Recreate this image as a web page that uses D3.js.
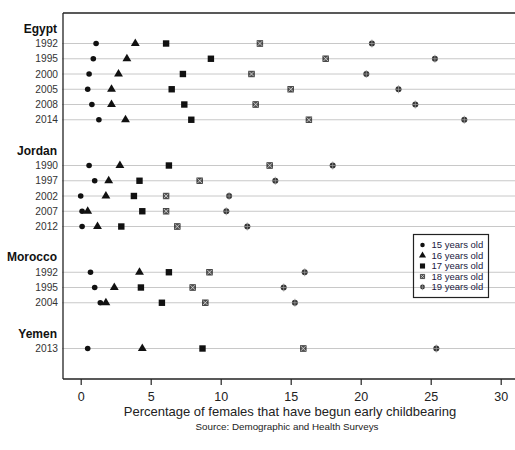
<!DOCTYPE html>
<html>
<head>
<meta charset="utf-8">
<script src="https://cdn.jsdelivr.net/npm/d3@7"></script>
<style>
  html, body { margin: 0; padding: 0; background: #fff; }
  svg { display: block; font-family: "Liberation Sans", Arial, sans-serif; }
</style>
</head>
<body>
<svg id="chart" width="515" height="450"></svg>
<script>
// Survey rows, grouped by country
const countries = ["Egypt", "Jordan", "Morocco", "Yemen"];
const surveyYears = {
  Egypt:   ["1992", "1995", "2000", "2005", "2008", "2014"],
  Jordan:  ["1990", "1997", "2002", "2007", "2012"],
  Morocco: ["1992", "1995", "2004"],
  Yemen:   ["2013"]
};
// Percent of females that have begun childbearing, by age (one entry per survey row)
const age15 = [1.1, 0.9, 0.6, 0.5, 0.8, 1.3,   0.6, 1.0, 0.0, 0.1, 0.1,   0.7, 1.0, 1.4,   0.5];
const age16 = [3.9, 3.3, 2.7, 2.2, 2.2, 3.2,   2.8, 2.0, 1.8, 0.5, 1.2,   4.2, 2.4, 1.8,   4.4];
const age17 = [6.1, 9.3, 7.3, 6.5, 7.4, 7.9,   6.3, 4.2, 3.8, 4.4, 2.9,   6.3, 4.3, 5.8,   8.7];
const age18 = [12.8, 17.5, 12.2, 15.0, 12.5, 16.3,   13.5, 8.5, 6.1, 6.1, 6.9,   9.2, 8.0, 8.9,   15.9];
const age19 = [20.8, 25.3, 20.4, 22.7, 23.9, 27.4,   18.0, 13.9, 10.6, 10.4, 11.9,   16.0, 14.5, 15.3,   25.4];
const seriesNames = ["15 years old", "16 years old", "17 years old", "18 years old", "19 years old"];
const xTicks = [0, 5, 10, 15, 20, 25, 30];

const svg = d3.select("#chart");

// Row layout: a header per country, then its survey years, then a blank spacer
const rows = [];
let k = 0;
countries.forEach((c, ci) => {
  rows.push({ type: "header", label: c, pos: rows.length });
  surveyYears[c].forEach(yr => {
    rows.push({ type: "data", label: yr, pos: rows.length, idx: k++ });
  });
  if (ci < countries.length - 1) rows.push({ type: "blank", pos: rows.length });
});

const plotLeft = 63, plotTop = 13, plotBottom = 379;
const x = d3.scaleLinear().domain([0, 30]).range([80.7, 500.7]);
const y = d3.scalePoint().domain(d3.range(-1, 24)).range([plotTop, plotBottom]);

const dataRows = rows.filter(r => r.type === "data");

// Horizontal guide lines for each survey
svg.append("g").selectAll("line").data(dataRows).join("line")
  .attr("x1", plotLeft - 1).attr("x2", 515)
  .attr("y1", d => y(d.pos)).attr("y2", d => y(d.pos))
  .attr("stroke", "#c8c8c8").attr("stroke-width", 1);

// Frame: left and top edges
svg.append("line").attr("x1", plotLeft).attr("x2", plotLeft).attr("y1", plotTop).attr("y2", plotBottom)
  .attr("stroke", "#222").attr("stroke-width", 1.3);
svg.append("line").attr("x1", plotLeft).attr("x2", 515).attr("y1", plotTop).attr("y2", plotTop)
  .attr("stroke", "#222").attr("stroke-width", 1.3);

// Row labels
svg.append("g").selectAll("text").data(rows.filter(r => r.type !== "blank")).join("text")
  .attr("x", d => d.type === "header" ? 57 : 58)
  .attr("y", d => y(d.pos))
  .attr("dy", "0.36em")
  .attr("text-anchor", "end")
  .attr("font-size", d => d.type === "header" ? 12 : 10.2)
  .attr("font-weight", d => d.type === "header" ? "bold" : "normal")
  .attr("fill", d => d.type === "header" ? "#111" : "#333")
  .text(d => d.label);

// X axis
const xAxis = svg.append("g").attr("transform", `translate(0,${plotBottom})`)
  .call(d3.axisBottom(x).tickValues(xTicks).tickSize(6).tickPadding(7).tickSizeOuter(0));
xAxis.select(".domain").remove();
xAxis.append("line").attr("x1", plotLeft).attr("x2", 515).attr("y1", 0).attr("y2", 0)
  .attr("stroke", "#222").attr("stroke-width", 1.3);
xAxis.selectAll(".tick line").attr("stroke", "#222").attr("stroke-width", 1.2);
xAxis.selectAll(".tick text").attr("font-size", 12.5).attr("fill", "#222")
  .attr("font-family", "Liberation Sans, Arial, sans-serif");

svg.append("text").attr("x", 290).attr("y", 416).attr("text-anchor", "middle")
  .attr("font-size", 13).attr("fill", "#222")
  .text("Percentage of females that have begun early childbearing");
svg.append("text").attr("x", 287).attr("y", 430).attr("text-anchor", "middle")
  .attr("font-size", 9.8).attr("fill", "#222")
  .text("Source: Demographic and Health Surveys");

// Marker drawers, one per age
function drawMarker(g, type) {
  if (type === 0) {
    g.append("circle").attr("r", 2.8).attr("fill", "#111");
  } else if (type === 1) {
    g.append("path").attr("d", d3.symbol(d3.symbolTriangle, 34)()).attr("fill", "#111");
  } else if (type === 2) {
    g.append("rect").attr("x", -3.2).attr("y", -3.2).attr("width", 6.4).attr("height", 6.4).attr("fill", "#111");
  } else if (type === 3) {
    g.append("rect").attr("x", -2.8).attr("y", -2.8).attr("width", 5.6).attr("height", 5.6)
      .attr("fill", "#555").attr("stroke", "#333").attr("stroke-width", 0.8);
    g.append("path").attr("d", "M-2.3,-2.3L2.3,2.3M-2.3,2.3L2.3,-2.3")
      .attr("stroke", "#ddd").attr("stroke-width", 0.8);
  } else {
    g.append("circle").attr("r", 3).attr("fill", "#333");
    g.append("path").attr("d", "M0,-4V4M-3,0H3")
      .attr("stroke", "#999").attr("stroke-width", 0.8);
  }
}

const series = [age15, age16, age17, age18, age19];
series.forEach((vals, si) => {
  const g = svg.append("g").attr("class", "series-" + si);
  dataRows.forEach(r => {
    const m = g.append("g").attr("transform", `translate(${x(vals[r.idx])},${y(r.pos)})`);
    drawMarker(m, si);
  });
});

// Legend
const lg = svg.append("g").attr("transform", "translate(413.5,234.5)");
lg.append("rect").attr("width", 75).attr("height", 63)
  .attr("fill", "none").attr("stroke", "#222").attr("stroke-width", 1.2);
seriesNames.forEach((name, i) => {
  const row = lg.append("g").attr("transform", `translate(0,${10.5 + i * 10.5})`);
  const m = row.append("g").attr("transform", "translate(9,0) scale(0.8)");
  drawMarker(m, i);
  row.append("text").attr("x", 18).attr("dy", "0.35em")
    .attr("font-size", 9.5).attr("fill", "#1a1a40").text(name);
});
</script>
</body>
</html>
